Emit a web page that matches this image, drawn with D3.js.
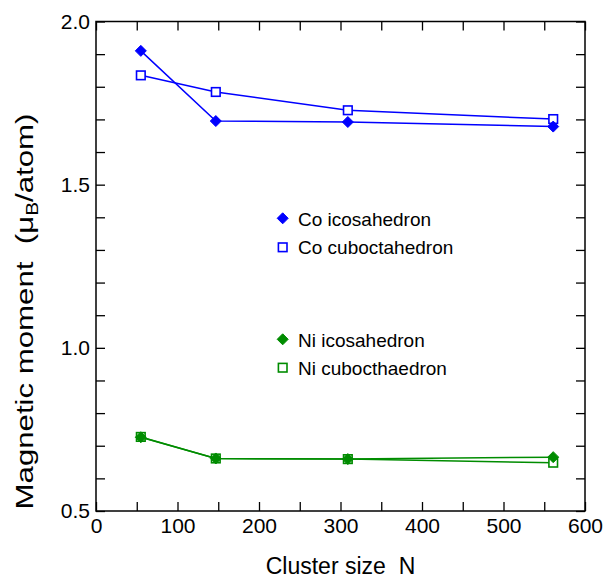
<!DOCTYPE html>
<html>
<head>
<meta charset="utf-8">
<script src="https://cdn.jsdelivr.net/npm/d3@7"></script>
<style>
  html, body { margin: 0; padding: 0; background: #fff; }
  svg { display: block; }
  text { font-family: "Liberation Sans", Arial, Helvetica, sans-serif; fill: #000; }
</style>
</head>
<body>
<script>
// Cluster sizes (magic numbers) and magnetic moments per atom
const clusterSizes = [55, 147, 309, 561];
const coIcosahedron = [1.910, 1.695, 1.692, 1.678];
const coCuboctahedron = [1.835, 1.784, 1.728, 1.701];
const niIcosahedron = [0.726, 0.661, 0.659, 0.665];
const niCuboctahedron = [0.727, 0.661, 0.659, 0.648];

const xTicks = d3.range(0, 601, 50);
const yTicks = d3.range(5, 21).map(d => d / 10);

const seriesList = [
  { name: "Co icosahedron", values: coIcosahedron, color: "#0000ff", shape: "diamond" },
  { name: "Co cuboctahedron", values: coCuboctahedron, color: "#0000ff", shape: "square" },
  { name: "Ni icosahedron", values: niIcosahedron, color: "#008c00", shape: "diamond" },
  { name: "Ni cubocthaedron", values: niCuboctahedron, color: "#008c00", shape: "square" }
];

const W = 603, H = 579;
const plot = { left: 96, right: 585, top: 21.5, bottom: 511 };

const svg = d3.select("body").append("svg").attr("width", W).attr("height", H);

const x = d3.scaleLinear().domain([0, 600]).range([plot.left, plot.right]);
const y = d3.scaleLinear().domain([0.5, 2.0]).range([plot.bottom, plot.top]);

const tickLen = 9;
const fmtX = d => (d % 100 === 0 ? String(d) : "");
const fmtY = d => (Math.abs(d * 2 - Math.round(d * 2)) < 1e-6 ? d.toFixed(1) : "");

function styleAxis(g, fontSize) {
  g.select(".domain").remove();
  g.selectAll(".tick line").attr("stroke", "#000").attr("stroke-width", 1.3);
  g.selectAll(".tick text").attr("font-size", fontSize).attr("fill", "#000")
    .style("font-family", "'Liberation Sans', Arial, sans-serif");
}

// bottom axis with labels
svg.append("g").attr("transform", `translate(0,${plot.bottom})`)
  .call(d3.axisBottom(x).tickValues(xTicks).tickFormat(fmtX).tickSize(-tickLen).tickPadding(7))
  .call(g => styleAxis(g, 21));
// top axis ticks only
svg.append("g").attr("transform", `translate(0,${plot.top})`)
  .call(d3.axisTop(x).tickValues(xTicks).tickFormat("").tickSize(-tickLen))
  .call(g => styleAxis(g, 21));
// left axis with labels
svg.append("g").attr("transform", `translate(${plot.left},0)`)
  .call(d3.axisLeft(y).tickValues(yTicks).tickFormat(fmtY).tickSize(-tickLen).tickPadding(6))
  .call(g => styleAxis(g, 21));
// right axis ticks only
svg.append("g").attr("transform", `translate(${plot.right},0)`)
  .call(d3.axisRight(y).tickValues(yTicks).tickFormat("").tickSize(-tickLen))
  .call(g => styleAxis(g, 21));

// frame
svg.append("rect")
  .attr("x", plot.left).attr("y", plot.top)
  .attr("width", plot.right - plot.left).attr("height", plot.bottom - plot.top)
  .attr("fill", "none").attr("stroke", "#000").attr("stroke-width", 1.5);

const line = d3.line().x(d => x(d[0])).y(d => y(d[1]));

function drawMarker(g, shape, color, cx, cy) {
  if (shape === "diamond") {
    const r = 5.5;
    g.append("path")
      .attr("d", `M${cx},${cy - r}L${cx + r},${cy}L${cx},${cy + r}L${cx - r},${cy}Z`)
      .attr("fill", color).attr("stroke", color).attr("stroke-width", 1);
  } else {
    const s = 8.6;
    g.append("rect")
      .attr("x", cx - s / 2).attr("y", cy - s / 2).attr("width", s).attr("height", s)
      .attr("fill", "#fff").attr("stroke", color).attr("stroke-width", 1.6);
  }
}

// lines first, then squares, then diamonds on top
seriesList.forEach(s => {
  const pts = clusterSizes.map((n, i) => [n, s.values[i]]);
  svg.append("path").datum(pts).attr("d", line)
    .attr("fill", "none").attr("stroke", s.color).attr("stroke-width", 1.5);
});
const markers = svg.append("g");
["square", "diamond"].forEach(shape => {
  seriesList.filter(s => s.shape === shape).forEach(s => {
    clusterSizes.forEach((n, i) => drawMarker(markers, s.shape, s.color, x(n), y(s.values[i])));
  });
});

// legend
const legendRows = [
  { s: seriesList[0], my: 218.3, ty: 226 },
  { s: seriesList[1], my: 247.3, ty: 254.3 },
  { s: seriesList[2], my: 339.3, ty: 346.7 },
  { s: seriesList[3], my: 367.7, ty: 374.5 }
];
const legend = svg.append("g");
legendRows.forEach(r => {
  drawMarker(legend, r.s.shape, r.s.color, 282.7, r.my);
  legend.append("text").attr("x", 298).attr("y", r.ty)
    .attr("font-size", 19).text(r.s.name);
});

// x axis title
svg.append("text")
  .attr("x", (plot.left + plot.right) / 2).attr("y", 574)
  .attr("text-anchor", "middle").attr("font-size", 23)
  .attr("xml:space", "preserve").style("white-space", "pre")
  .text("Cluster size  N");

// y axis title, stretched along its length
const yTitleG = svg.append("g");
const yTitle = yTitleG.append("text")
  .attr("text-anchor", "middle").attr("font-size", 24)
  .attr("xml:space", "preserve").style("white-space", "pre");
yTitle.append("tspan").text("Magnetic moment  (μ");
yTitle.append("tspan").attr("font-size", 16).attr("dy", 5).text("B");
yTitle.append("tspan").attr("dy", -5).text("/atom)");
const titleLen = yTitle.node().getComputedTextLength();
const k = 396 / titleLen;
yTitleG.attr("transform", `translate(33,311.5) rotate(-90) scale(${k},1)`);
</script>
</body>
</html>
